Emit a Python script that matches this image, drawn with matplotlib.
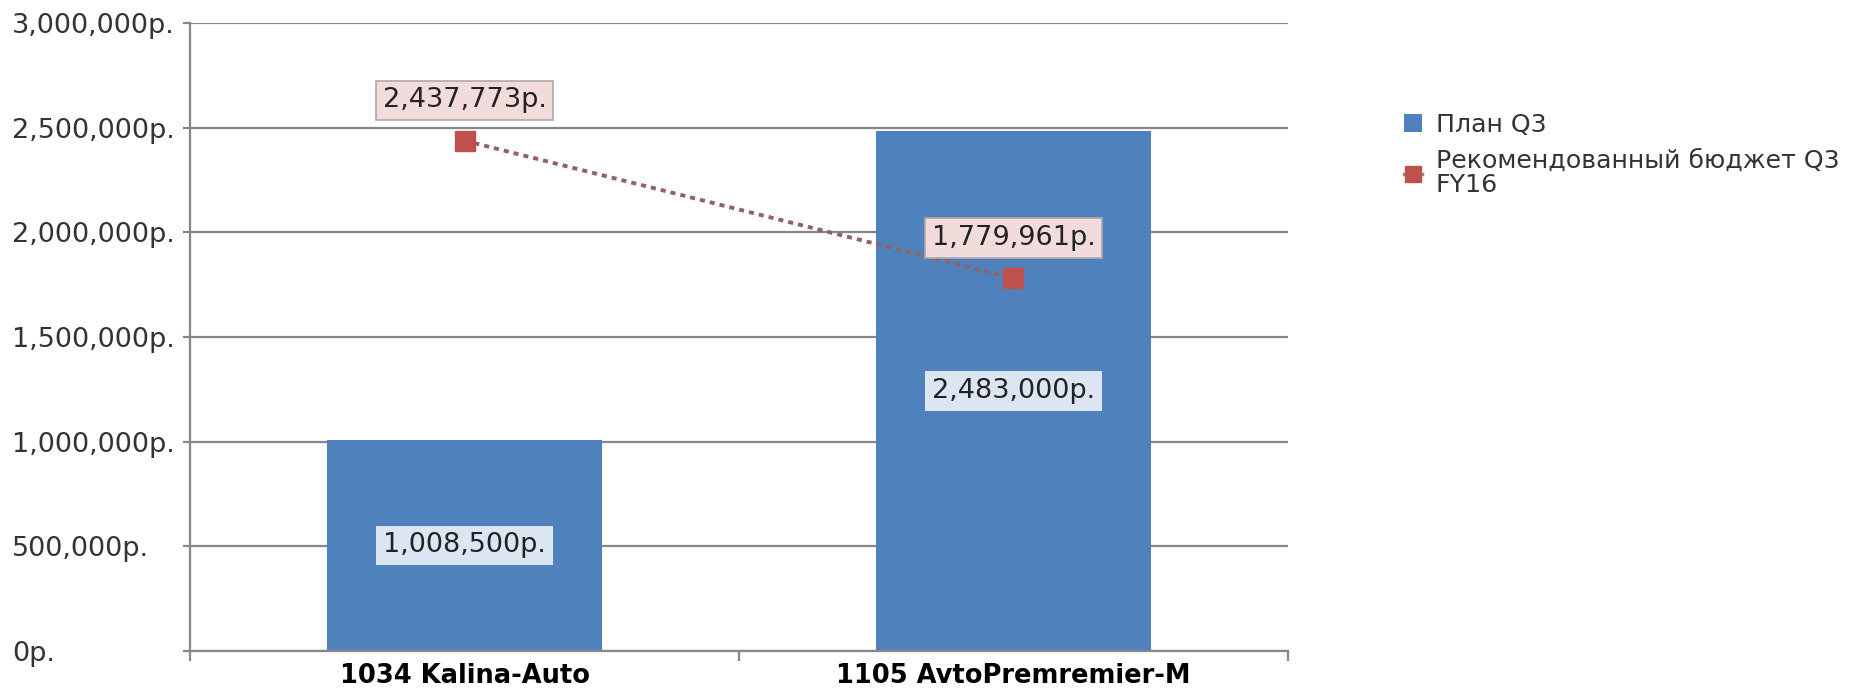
import matplotlib.pyplot as plt
from matplotlib.ticker import FuncFormatter, FixedLocator
from matplotlib.lines import Line2D

categories = ['1034 Kalina-Auto', '1105 AvtoPremremier-M']
plan_q3 = [1008500, 2483000]
recommended = [2437773, 1779961]
series_names = ['План Q3', 'Рекомендованный бюджет Q3\nFY16']
y_ticks = [0, 500000, 1000000, 1500000, 2000000, 2500000, 3000000]

BAR_COLOR = '#4f81bd'
MARK_COLOR = '#c0504d'
LINE_COLOR = '#946063'
GRID_COLOR = '#878787'


def rub(v, pos=None):
    return f'{v:,.0f}р.'


plt.rcParams['font.family'] = ['DejaVu Sans']
fig = plt.figure(figsize=(18.58, 6.94), dpi=100)
ax = fig.add_axes([0.1023, 0.062, 0.5909, 0.9049])

x = list(range(len(categories)))
bars = ax.bar(x, plan_q3, width=0.5, color=BAR_COLOR, zorder=2, label=series_names[0])
ax.plot(x, recommended, color=LINE_COLOR, lw=2.8, dashes=(1.3, 1.3),
        dash_capstyle='butt', zorder=3)
ax.plot(x, recommended, ls='none', marker='s', ms=14, color=MARK_COLOR,
        markeredgecolor=MARK_COLOR, zorder=4)

fs = 19.5
for xi, v in zip(x, plan_q3):
    ax.text(xi, v / 2, rub(v), ha='center', va='center', fontsize=fs, zorder=5,
            color='#222222',
            bbox=dict(boxstyle='square,pad=0.25', fc='#dce6f2', ec='none'))
for xi, v in zip(x, recommended):
    ax.annotate(rub(v), (xi, v), xytext=(0, 29), textcoords='offset points',
                ha='center', va='center', fontsize=fs, zorder=5, color='#222222',
                bbox=dict(boxstyle='square,pad=0.25', fc='#f2dcdb', ec='#b0a8a8', lw=1.2))

ax.set_xlim(-0.5, 1.5)
ax.set_ylim(0, 3000000)
ax.yaxis.set_major_locator(FixedLocator(y_ticks))
ax.yaxis.set_major_formatter(FuncFormatter(rub))
ax.grid(axis='y', color=GRID_COLOR, lw=1.6, zorder=0)

ax.set_xticks(x)
ax.set_xticklabels(categories, fontweight='bold', fontsize=18.5)
ax.set_xticks([-0.5, 0.5, 1.5], minor=True)
ax.tick_params(axis='x', which='major', length=0, pad=9)
ax.tick_params(axis='x', which='minor', length=7, width=1.6, color=GRID_COLOR)
ax.tick_params(axis='y', length=5, width=1.6, color=GRID_COLOR, labelsize=fs,
               pad=123, labelcolor='#333333')
for lab in ax.get_yticklabels():
    lab.set_ha('left')

for side in ['top', 'right']:
    ax.spines[side].set_visible(False)
for side in ['left', 'bottom']:
    ax.spines[side].set_color(GRID_COLOR)
    ax.spines[side].set_linewidth(1.6)

line_handle = Line2D([], [], color='#8a8a8a', lw=2.5, marker='s', ms=11,
                     markerfacecolor=MARK_COLOR, markeredgecolor=MARK_COLOR)
handles = [bars, line_handle]
leg = fig.legend(handles, series_names, loc='upper left', bbox_to_anchor=(0.749, 0.856),
                 frameon=False, fontsize=18.2, handlelength=0.7, handleheight=0.7,
                 handletextpad=0.55, labelspacing=0.5, borderpad=0)
for t in leg.get_texts():
    t.set_color('#333333')
    t.set_linespacing(1.0)

fig.savefig('out.png', dpi=100)
